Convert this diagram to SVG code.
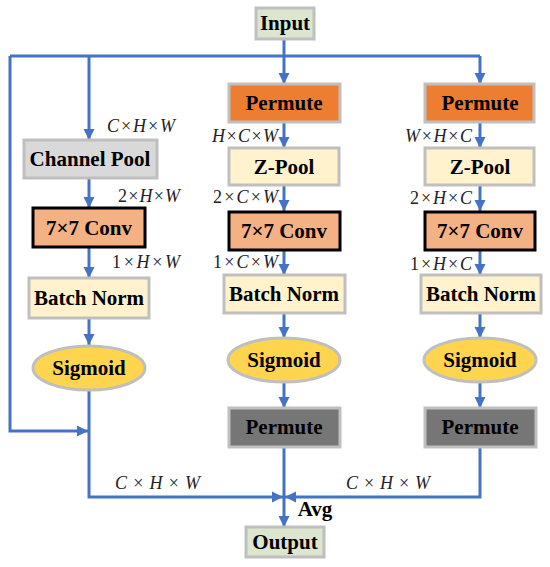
<svg xmlns="http://www.w3.org/2000/svg" width="550" height="567" viewBox="0 0 550 567" font-family="'Liberation Serif', 'Times New Roman', serif">
<defs>
<marker id="ah" markerUnits="userSpaceOnUse" markerWidth="12" markerHeight="12" viewBox="0 0 12 12" refX="11" refY="6" orient="auto">
<path d="M0,0.5 L11,6 L0,11.5 Z" fill="#4472C4"/>
</marker>
<style>
.bx{stroke:#BFBFBF;stroke-width:3}
.lbl{font-family:'Liberation Serif', serif;font-weight:bold;font-size:21px;fill:#000;text-anchor:middle}
.dim{font-family:'Liberation Serif', serif;font-style:italic;font-size:18px;fill:#222}
.up{font-style:normal}
.ln{fill:none;stroke:#4472C4;stroke-width:3}
.ar{fill:none;stroke:#4472C4;stroke-width:3;marker-end:url(#ah)}
</style>
</defs>
<rect width="550" height="567" fill="#fff"/>
<g id="connectors">
<path class="ln" d="M284,39 V56"/>
<path class="ln" d="M10,56 H480"/>
<path class="ar" d="M284,56 V84"/>
<path class="ar" d="M480,56 V84"/>
<path class="ar" d="M89,56 V140"/>
<path class="ar" d="M10,56 V431 H88"/>
<path class="ar" d="M89,178 V208"/>
<path class="ar" d="M89,247 V278"/>
<path class="ar" d="M89,318 V345"/>
<path class="ar" d="M89,390 V497 H283"/>
<path class="ar" d="M284,122 V148"/>
<path class="ar" d="M284,185 V211"/>
<path class="ar" d="M284,250 V275"/>
<path class="ar" d="M284,313 V338"/>
<path class="ar" d="M284,383 V408"/>
<path class="ar" d="M284,447 V527"/>
<path class="ar" d="M480,122 V148"/>
<path class="ar" d="M480,185 V211"/>
<path class="ar" d="M480,250 V275"/>
<path class="ar" d="M480,313 V338"/>
<path class="ar" d="M480,383 V408"/>
<path class="ar" d="M480,447 V497 H285"/>
</g>
<g id="input"><rect class="bx" x="256" y="8" width="58" height="31" fill="#DCE5CD"/><text class="lbl" x="285" y="30">Input</text></g>
<g id="channel-pool"><rect class="bx" x="24" y="140" width="133" height="38" fill="#D9D9D9"/><text class="lbl" x="90" y="166">Channel Pool</text></g>
<g id="conv1"><rect x="33" y="208" width="112" height="39" fill="#F4B183" stroke="#000" stroke-width="3"/><text class="lbl" x="89" y="235">7×7 Conv</text></g>
<g id="bn1"><rect class="bx" x="29" y="278" width="120" height="40" fill="#FFF2CC"/><text class="lbl" x="89" y="305">Batch Norm</text></g>
<g id="sig1"><ellipse class="bx" cx="89" cy="368" rx="56" ry="22" fill="#FFD54F"/><text class="lbl" x="89" y="375">Sigmoid</text></g>
<g id="permute2"><rect class="bx" x="229" y="84" width="111" height="38" fill="#ED7D31"/><text class="lbl" x="284" y="110">Permute</text></g>
<g id="zpool2"><rect class="bx" x="229" y="148" width="110" height="37" fill="#FFF2CC"/><text class="lbl" x="284" y="174">Z-Pool</text></g>
<g id="conv2"><rect x="229" y="212" width="111" height="38" fill="#F4B183" stroke="#000" stroke-width="3"/><text class="lbl" x="284" y="238">7×7 Conv</text></g>
<g id="bn2"><rect class="bx" x="224" y="275" width="121" height="38" fill="#FFF2CC"/><text class="lbl" x="284" y="301">Batch Norm</text></g>
<g id="sig2"><ellipse class="bx" cx="284" cy="360" rx="56" ry="22" fill="#FFD54F"/><text class="lbl" x="284" y="367">Sigmoid</text></g>
<g id="permute2b"><rect class="bx" x="229" y="408" width="111" height="39" fill="#767676"/><text class="lbl" x="284" y="434">Permute</text></g>
<g id="permute3"><rect class="bx" x="425" y="84" width="109" height="38" fill="#ED7D31"/><text class="lbl" x="480" y="110">Permute</text></g>
<g id="zpool3"><rect class="bx" x="425" y="148" width="109" height="37" fill="#FFF2CC"/><text class="lbl" x="480" y="174">Z-Pool</text></g>
<g id="conv3"><rect x="425" y="212" width="110" height="38" fill="#F4B183" stroke="#000" stroke-width="3"/><text class="lbl" x="480" y="238">7×7 Conv</text></g>
<g id="bn3"><rect class="bx" x="421" y="275" width="120" height="38" fill="#FFF2CC"/><text class="lbl" x="481" y="301">Batch Norm</text></g>
<g id="sig3"><ellipse class="bx" cx="480" cy="360" rx="56" ry="22" fill="#FFD54F"/><text class="lbl" x="480" y="367">Sigmoid</text></g>
<g id="permute3b"><rect class="bx" x="425" y="408" width="111" height="39" fill="#767676"/><text class="lbl" x="480" y="434">Permute</text></g>
<g id="output"><rect class="bx" x="246" y="527" width="78" height="30" fill="#DCE5CD"/><text class="lbl" x="285" y="549">Output</text></g>
<g id="labels">
<text class="dim" x="107" y="132" textLength="68">C<tspan class="up">×</tspan>H<tspan class="up">×</tspan>W</text>
<text class="dim" x="212" y="142" textLength="66">H<tspan class="up">×</tspan>C<tspan class="up">×</tspan>W</text>
<text class="dim" x="405" y="142" textLength="67">W<tspan class="up">×</tspan>H<tspan class="up">×</tspan>C</text>
<text class="dim" x="118" y="202" textLength="62"><tspan class="up">2×</tspan>H<tspan class="up">×</tspan>W</text>
<text class="dim" x="213" y="203" textLength="65"><tspan class="up">2×</tspan>C<tspan class="up">×</tspan>W</text>
<text class="dim" x="410" y="204" textLength="62"><tspan class="up">2×</tspan>H<tspan class="up">×</tspan>C</text>
<text class="dim" x="112" y="268" textLength="68"><tspan class="up">1×</tspan>H<tspan class="up">×</tspan>W</text>
<text class="dim" x="213" y="268" textLength="65"><tspan class="up">1×</tspan>C<tspan class="up">×</tspan>W</text>
<text class="dim" x="410" y="270" textLength="62"><tspan class="up">1×</tspan>H<tspan class="up">×</tspan>C</text>
<text class="dim" x="115" y="489" font-size="24" textLength="85">C<tspan class="up">×</tspan>H<tspan class="up">×</tspan>W</text>
<text class="dim" x="346" y="489" font-size="24" textLength="84">C<tspan class="up">×</tspan>H<tspan class="up">×</tspan>W</text>
<text class="lbl" x="315" y="516">Avg</text>
</g>
</svg>
